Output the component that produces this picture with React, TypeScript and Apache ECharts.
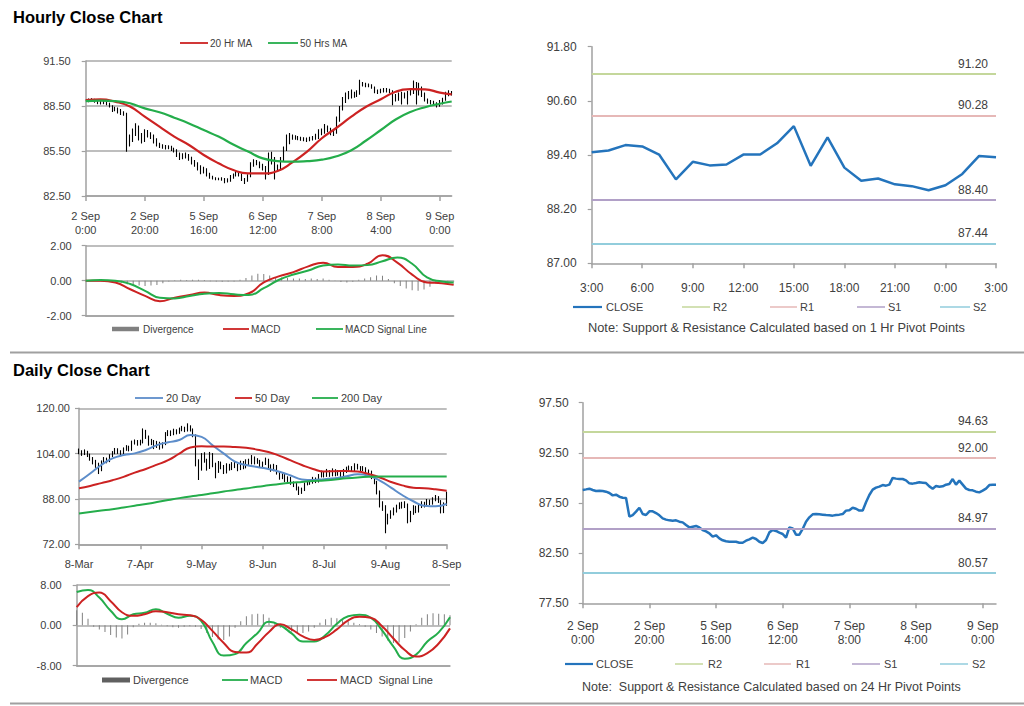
import React, { useEffect, useRef } from "react";
import * as echarts from "echarts";

const FONT = 'Arial, "Liberation Sans", Helvetica, sans-serif';
const TXT = "#404040";
const AX = "#a0a0a0";
const GRIDC = "#a8a8a8";
const RED = "#cc2222";
const GREEN = "#24ad4b";
const BLUE = "#2474bc";
const LBLUE = "#5d8dca";
const GRAY = "#808080";
const C_R2 = "#c4d79b";
const C_R1 = "#e6b8b7";
const C_S1 = "#b1a0c7";
const C_S2 = "#92cddc";

// ---------- Hourly data (2 Sep 0:00 -> 9 Sep 4:00) ----------
const hourlyTicks = ["2 Sep\n0:00", "2 Sep\n20:00", "5 Sep\n16:00", "6 Sep\n12:00", "7 Sep\n8:00", "8 Sep\n4:00", "9 Sep\n0:00"];
const HOURLY_TICK_STEP = 20;
const hourlyFirstOpen = 88.75;
const hourlyClose = [
  88.80, 88.86, 88.93, 88.80, 88.70, 88.73, 88.70, 88.63, 88.50, 88.26,
  88.33, 88.13, 88.03, 88.00, 86.14, 86.30, 86.64, 87.03, 86.40, 86.30,
  86.67, 86.67, 86.50, 86.27, 85.97, 85.84, 85.77, 85.74, 85.77, 85.64,
  85.57, 85.30, 85.07, 85.14, 85.21, 85.07, 84.81, 84.67, 84.48, 84.14,
  84.28, 83.98, 83.78, 83.68, 83.64, 83.64, 83.64, 83.54, 83.54, 83.74,
  83.88, 84.04, 83.91, 83.64, 83.51, 83.81, 84.57, 84.81, 84.71, 84.54,
  84.41, 84.04, 85.07, 84.97, 84.34, 84.34, 84.91, 85.64, 86.07, 86.37,
  86.40, 86.37, 86.34, 86.30, 86.27, 86.24, 86.30, 86.34, 86.40, 86.74,
  86.77, 87.03, 86.93, 86.74, 86.74, 87.57, 88.30, 88.83, 89.03, 89.13,
  89.29, 89.23, 89.33, 90.00, 89.93, 89.89, 89.89, 89.76, 89.46, 89.43,
  89.49, 89.56, 89.53, 89.49, 89.16, 88.93, 89.19, 89.13, 89.16, 89.33,
  89.39, 89.89, 89.33, 89.73, 89.33, 88.93, 88.80, 88.76, 88.63, 88.56,
  88.73, 88.93, 89.29, 89.33, 89.33,
];
const hourlyHigh = [
  88.95, 89.00, 89.02, 88.98, 88.90, 88.85, 88.88, 88.80, 88.72, 88.55,
  88.45, 88.40, 88.30, 88.15, 88.05, 86.60, 87.00, 87.35, 87.20, 86.70,
  86.95, 86.90, 86.75, 86.60, 86.35, 86.05, 85.95, 85.90, 85.88, 85.85,
  85.72, 85.62, 85.40, 85.35, 85.40, 85.30, 85.12, 84.90, 84.75, 84.55,
  84.45, 84.35, 84.05, 83.85, 83.75, 83.72, 83.75, 83.70, 83.68, 83.90,
  84.00, 84.20, 84.10, 84.00, 83.70, 83.95, 84.75, 84.95, 84.90, 84.80,
  84.65, 84.50, 85.40, 85.45, 85.10, 84.60, 85.10, 85.80, 86.60, 86.70,
  86.60, 86.55, 86.50, 86.45, 86.42, 86.40, 86.45, 86.50, 86.65, 86.95,
  87.00, 87.30, 87.20, 87.05, 86.95, 87.80, 88.50, 89.10, 89.40, 89.50,
  89.60, 89.45, 89.55, 90.25, 90.10, 90.05, 90.00, 89.95, 89.80, 89.60,
  89.65, 89.70, 89.70, 89.65, 89.55, 89.30, 89.40, 89.45, 89.40, 89.50,
  89.60, 90.20, 90.10, 90.05, 89.80, 89.40, 89.00, 88.90, 88.85, 88.75,
  88.90, 89.05, 89.45, 89.55, 89.50,
];
const hourlyLow = [
  88.70, 88.75, 88.80, 88.72, 88.62, 88.60, 88.62, 88.55, 88.40, 88.10,
  88.15, 88.00, 87.90, 87.85, 85.45, 85.80, 86.10, 86.50, 86.20, 86.00,
  86.10, 86.40, 86.30, 86.00, 85.80, 85.70, 85.65, 85.60, 85.62, 85.50,
  85.40, 85.10, 84.90, 84.95, 85.00, 84.85, 84.60, 84.45, 84.20, 83.95,
  84.00, 83.80, 83.65, 83.60, 83.55, 83.55, 83.52, 83.35, 83.40, 83.45,
  83.65, 83.80, 83.80, 83.50, 83.30, 83.45, 83.75, 84.45, 84.55, 84.35,
  84.20, 83.60, 83.90, 84.60, 83.60, 84.10, 84.20, 84.80, 85.50, 85.95,
  86.25, 86.25, 86.22, 86.18, 86.15, 86.10, 86.15, 86.20, 86.25, 86.30,
  86.55, 86.65, 86.75, 86.55, 86.50, 86.65, 87.45, 88.20, 88.70, 88.95,
  89.00, 89.05, 89.10, 89.25, 89.80, 89.75, 89.75, 89.65, 89.35, 89.30,
  89.35, 89.40, 89.40, 89.35, 88.55, 88.80, 88.85, 88.60, 89.00, 88.60,
  89.20, 89.30, 88.60, 89.20, 89.10, 88.80, 88.65, 88.60, 88.50, 88.40,
  88.45, 88.60, 88.85, 89.15, 89.20,
];
// moving averages / MACD read at these bar positions
const hourlySampleBars = [0, 5, 10, 15, 20, 25, 30, 35, 40, 45, 50, 55, 60, 65, 70, 75, 80, 85, 90, 95, 100, 105, 110, 115, 120, 124];
const hourlyMA20 = [88.90, 88.94, 88.79, 88.46, 87.79, 87.12, 86.46, 85.90, 85.23, 84.68, 84.23, 84.01, 84.01, 84.17, 84.74, 85.46, 86.35, 87.05, 87.79, 88.45, 88.95, 89.45, 89.62, 89.61, 89.39, 89.28];
const hourlyMA50 = [88.83, 88.86, 88.83, 88.68, 88.34, 88.08, 87.72, 87.34, 86.90, 86.46, 85.94, 85.46, 85.01, 84.83, 84.79, 84.83, 84.92, 85.15, 85.55, 86.20, 86.90, 87.60, 88.10, 88.42, 88.65, 88.80];
const hourlyMACD = [0, 0, -0.10, -0.49, -0.87, -1.17, -0.97, -0.82, -0.68, -0.82, -0.87, -0.72, -0.10, 0.25, 0.49, 0.82, 1.03, 0.78, 0.78, 0.97, 1.46, 1.03, 0.35, -0.10, -0.14, -0.23];
const hourlySignal = [0, 0.04, 0, -0.19, -0.58, -0.97, -1.01, -0.87, -0.74, -0.70, -0.78, -0.82, -0.43, 0.04, 0.35, 0.58, 0.87, 0.93, 0.87, 0.89, 1.11, 1.32, 0.97, 0.19, -0.04, -0.10];
// divergence: one value every 2 bars
const HOURLY_DIV_STEP = 2;
const hourlyDivergence = [
  0, 0, -0.02, -0.03, -0.05, -0.08, -0.12, -0.20, -0.25, -0.28,
  -0.30, -0.28, -0.25, -0.15, -0.05, 0.03, 0.05, 0.04, 0.05, 0.06,
  0.04, -0.03, -0.05, -0.06, -0.05, -0.04, 0.05, 0.15, 0.30, 0.40,
  0.38, 0.30, 0.20, 0.18, 0.15, 0.12, 0.12, 0.10, 0.12, 0.10,
  0.12, 0.05, -0.02, -0.08, -0.10, -0.06, 0.05, 0.12, 0.20, 0.30,
  0.28, 0.10, -0.15, -0.30, -0.45, -0.55, -0.58, -0.50, -0.35, -0.15,
  -0.08, -0.06, -0.05,
];

// ---------- 1 Hr pivot panel ----------
const pivotHourTicks = ["3:00", "6:00", "9:00", "12:00", "15:00", "18:00", "21:00", "0:00", "3:00"];
const PIVOT_TICK_STEP = 3;
const pivotHourClose = [89.46, 89.50, 89.62, 89.59, 89.41, 88.86, 89.25, 89.17, 89.19, 89.41, 89.41, 89.66, 90.04, 89.16, 89.79, 89.12, 88.83, 88.88, 88.75, 88.71, 88.62, 88.73, 88.98, 89.38, 89.35];
const hourPivots = { R2: 91.20, R1: 90.28, S1: 88.40, S2: 87.44 };
const hourPivotAxis = { min: 87.0, max: 91.8, interval: 1.2 };

// ---------- Daily data (8 Mar -> 8 Sep) ----------
const dailyTicks = ["8-Mar", "7-Apr", "9-May", "8-Jun", "8-Jul", "9-Aug", "8-Sep"];
const DAILY_TICK_STEP = 22;
const dailyFirstOpen = 105.0;
const dailyClose = [
  104.5, 104.0, 104.8, 103.6, 102.2, 101.0, 100.5, 98.2, 101.0, 102.0,
  101.5, 103.2, 104.3, 105.2, 104.6, 104.0, 105.5, 106.2, 105.4, 107.8,
  108.2, 107.4, 108.0, 111.8, 110.0, 107.5, 108.3, 106.6, 107.8, 106.2,
  107.4, 110.8, 111.6, 110.9, 112.0, 111.5, 112.4, 113.0, 112.2, 113.6,
  112.5, 110.5, 101.0, 98.5, 103.0, 101.5, 99.0, 103.8, 100.0, 97.8,
  100.5, 99.3, 97.5, 99.8, 98.8, 100.4, 99.6, 98.7, 100.8, 99.2,
  101.4, 100.6, 102.6, 100.9, 101.2, 99.8, 100.4, 101.8, 99.3, 98.4,
  99.6, 97.2, 95.6, 96.3, 94.6, 95.2, 93.6, 93.0, 92.0, 90.5,
  91.2, 93.2, 94.0, 93.8, 95.0, 94.2, 96.1, 97.2, 96.3, 97.8,
  96.5, 98.0, 96.8, 97.5, 96.4, 97.8, 98.7, 99.0, 98.2, 99.8,
  99.0, 98.4, 98.9, 97.0, 97.8, 95.6, 94.0, 90.5, 86.0, 85.3,
  80.0, 82.0, 83.0, 84.0, 85.0, 86.0, 85.2, 86.0, 80.5, 83.0,
  85.0, 83.8, 85.2, 86.5, 85.8, 87.2, 86.4, 87.8, 88.6, 87.2,
  83.5, 86.0, 89.0,
];
const dailyHigh = [
  105.8, 105.2, 105.5, 105.0, 104.0, 102.8, 101.8, 100.8, 101.6, 102.8,
  102.6, 103.8, 104.9, 106.0, 105.9, 105.2, 106.2, 107.0, 106.8, 108.6,
  109.0, 108.8, 108.9, 112.9, 112.4, 110.4, 109.2, 108.8, 108.5, 108.2,
  108.0, 111.6, 112.3, 112.2, 112.8, 112.6, 113.2, 113.8, 113.5, 114.7,
  114.0, 112.9, 110.8, 102.0, 104.2, 104.5, 102.2, 104.6, 104.2, 100.8,
  101.4, 101.2, 100.0, 100.6, 100.4, 101.0, 101.2, 100.4, 101.5, 101.4,
  102.0, 102.2, 103.5, 103.0, 102.4, 101.8, 101.2, 102.6, 102.2, 100.2,
  100.4, 100.0, 97.8, 97.0, 96.8, 96.0, 95.8, 94.2, 93.6, 92.4,
  92.0, 93.8, 94.8, 94.6, 95.8, 95.6, 96.8, 98.0, 97.8, 98.6,
  98.2, 98.8, 98.5, 98.2, 98.0, 98.6, 99.4, 99.8, 99.6, 100.6,
  100.4, 99.6, 99.6, 99.2, 98.4, 98.0, 96.0, 94.4, 91.0, 87.2,
  85.8, 82.8, 84.0, 85.0, 86.0, 86.8, 87.0, 87.2, 86.4, 83.8,
  85.8, 85.6, 86.0, 87.2, 87.0, 88.0, 87.8, 88.6, 89.4, 89.0,
  87.6, 86.8, 90.6,
];
const dailyLow = [
  103.8, 103.2, 103.5, 102.8, 101.5, 100.2, 99.0, 96.8, 97.8, 100.4,
  100.6, 101.0, 102.8, 103.8, 103.9, 103.4, 103.6, 105.0, 104.8, 105.0,
  107.2, 106.8, 106.9, 107.6, 109.2, 106.8, 107.0, 105.6, 106.0, 105.4,
  105.8, 107.0, 110.2, 110.2, 110.5, 110.8, 111.0, 111.9, 111.6, 111.8,
  111.8, 109.8, 99.5, 94.7, 98.0, 100.8, 98.0, 98.6, 99.2, 95.3,
  97.2, 98.5, 96.8, 97.0, 98.0, 98.2, 98.9, 97.8, 98.2, 98.5,
  98.8, 100.0, 100.2, 100.2, 100.4, 99.2, 99.2, 100.0, 98.8, 97.6,
  97.8, 96.6, 94.8, 95.0, 94.0, 94.0, 93.0, 92.2, 91.0, 89.4,
  89.8, 90.8, 92.8, 93.0, 93.4, 93.6, 93.8, 95.6, 95.6, 95.8,
  95.8, 96.0, 96.0, 96.2, 95.8, 96.0, 97.2, 98.0, 97.6, 97.8,
  98.4, 97.8, 97.8, 96.4, 96.4, 95.0, 93.2, 89.6, 85.0, 83.8,
  75.9, 79.0, 81.0, 82.2, 83.2, 84.4, 84.6, 84.8, 79.4, 79.8,
  82.4, 83.0, 83.2, 84.8, 85.0, 85.4, 85.8, 86.0, 87.2, 86.6,
  82.9, 83.0, 85.6,
];
// moving averages / MACD read every 4 bars
const DAILY_SAMPLE_STEP = 4;
const dailyMA20 = [94.1, 97.0, 100.0, 102.3, 103.5, 104.1, 105.3, 107.0, 108.0, 108.8, 110.6, 109.9, 106.9, 104.0, 101.2, 100.0, 99.3, 98.6, 97.6, 96.3, 94.9, 94.7, 95.0, 95.3, 96.0, 96.7, 96.2, 94.5, 92.0, 89.4, 87.2, 85.6, 85.4, 86.3];
const dailyMA50 = [91.8, 92.6, 93.6, 94.6, 95.8, 97.3, 98.6, 100.1, 101.7, 104.0, 106.2, 106.6, 106.5, 106.5, 106.3, 106.1, 105.4, 104.6, 103.2, 101.6, 100.0, 98.6, 97.7, 97.8, 97.9, 97.7, 96.8, 95.6, 94.0, 92.8, 92.0, 91.8, 91.4, 90.9];
const dailyMA200 = [82.9, 83.4, 83.9, 84.4, 85.0, 85.6, 86.2, 86.9, 87.6, 88.3, 88.9, 89.4, 90.0, 90.6, 91.2, 91.7, 92.3, 92.8, 93.3, 93.7, 94.0, 94.3, 94.5, 94.9, 95.3, 95.6, 95.8, 95.9, 95.9, 95.9, 95.9, 95.9, 95.9, 95.9];
const dailyMACD = [6.6, 7.0, 5.5, 2.9, 1.2, 2.2, 2.5, 3.2, 2.3, 1.5, 1.9, 0.9, -3.3, -6.0, -5.7, -3.5, -1.5, 0.7, 0.0, -1.6, -3.2, -3.2, -1.9, 0.3, 1.8, 2.1, 1.5, -1.0, -4.2, -6.6, -5.8, -3.2, -1.4, 1.6];
const dailySignal = [3.6, 5.8, 6.5, 4.8, 2.6, 1.9, 2.2, 2.8, 2.6, 2.2, 2.0, 1.1, -1.1, -3.5, -5.3, -5.4, -3.6, -1.3, 0.2, -0.8, -2.2, -2.9, -2.3, -0.8, 1.0, 1.7, 1.5, -0.2, -2.6, -4.9, -6.2, -5.5, -3.6, -0.6];
const DAILY_DIV_STEP = 2;
const dailyDivergence = [
  3.0, 2.5, 1.3, -0.3, -0.8, -1.3, -1.9, -2.4, -2.6, -1.8,
  -0.4, 0.3, 0.5, 0.5, 0.4, 0.1, -0.2, -0.4, -0.5, -0.3,
  -0.2, -0.3, -0.7, -1.5, -2.3, -2.8, -2.9, -2.2, -0.5, 0.8,
  1.8, 2.2, 2.3, 2.2, 1.5, 0.2, -0.5, -0.9, -1.2, -1.4,
  -1.5, -1.2, -0.5, 0.5, 1.2, 1.5, 1.4, 1.0, 0.8, 0.5,
  0.2, -0.3, -0.8, -1.5, -2.2, -3.0, -3.5, -3.4, -2.5, -1.2,
  0.2, 1.5, 2.2, 2.4, 2.3, 2.2, 2.0,
];
const dayPivots = { R2: 94.63, R1: 92.00, S1: 84.97, S2: 80.57 };

// ---------- helpers ----------
const fmt2 = (v: number) => v.toFixed(2);
const toCandles = (first: number, close: number[], low: number[], high: number[]) =>
  close.map((c, i) => [i === 0 ? first : close[i - 1], c, low[i], high[i]]);
const pairs = (xs: number[], ys: number[]) => ys.map((v, k) => [xs[k], v]);
const stepPairs = (step: number, ys: number[]) => ys.map((v, k) => [k * step, v]);

const axisLineStyle = { show: true, lineStyle: { color: AX, width: 1.5 } };
const labelBase = (size: number) => ({ color: TXT, fontSize: size, fontFamily: FONT });

function catAxis(gridIndex: number, n: number, ticks: string[], step: number, size: number, margin: number) {
  return {
    type: "category",
    gridIndex,
    boundaryGap: false,
    data: Array.from({ length: n }, (_, i) => String(i)),
    axisLine: axisLineStyle,
    axisTick: { show: true, interval: step - 1, length: 5, lineStyle: { color: AX, width: 1.5 } },
    axisLabel: {
      ...labelBase(size),
      interval: step - 1,
      margin,
      lineHeight: 14,
      formatter: (_v: string, idx: number) => (idx % step === 0 ? ticks[idx / step] ?? "" : ""),
    },
    splitLine: { show: false },
  };
}
function hiddenValueX(gridIndex: number, max: number, showLine: boolean) {
  return {
    type: "value",
    gridIndex,
    min: 0,
    max,
    show: showLine,
    axisLine: { ...axisLineStyle, onZero: false },
    axisTick: { show: false },
    axisLabel: { show: false },
    splitLine: { show: false },
  };
}
function valueY(gridIndex: number, min: number, max: number, interval: number, size: number, margin: number, split: boolean) {
  return {
    type: "value",
    gridIndex,
    min,
    max,
    interval,
    axisLine: axisLineStyle,
    axisTick: { show: true, length: 4, lineStyle: { color: AX, width: 1.2 } },
    axisLabel: { ...labelBase(size), margin, formatter: fmt2 },
    splitLine: { show: split, lineStyle: { color: GRIDC, width: 1.5 } },
  };
}
const lineSeries = (name: string, x: number, y: number, data: any[], color: string, width: number, smooth = true) => ({
  name, type: "line", xAxisIndex: x, yAxisIndex: y, data, showSymbol: false, symbol: "none",
  smooth, lineStyle: { color, width }, itemStyle: { color }, silent: true, z: 3,
});
const candleSeries = (name: string, x: number, y: number, data: any[]) => ({
  name, type: "candlestick", xAxisIndex: x, yAxisIndex: y, data, barWidth: 1, silent: true, z: 2,
  itemStyle: { color: "#000", color0: "#000", borderColor: "#000", borderColor0: "#000", borderWidth: 1.1 },
});
const barSeries = (name: string, x: number, y: number, data: any[]) => ({
  name, type: "bar", xAxisIndex: x, yAxisIndex: y, data, barWidth: 1, silent: true,
  itemStyle: { color: GRAY }, z: 2,
});
const pivotMarks = (p: { R2: number; R1: number; S1: number; S2: number }) => ({
  silent: true,
  symbol: ["none", "none"],
  animation: false,
  label: { show: true, position: "insideEndTop", formatter: (q: any) => fmt2(q.value), color: TXT, fontSize: 12, fontFamily: FONT, distance: [8, 4] },
  emphasis: { disabled: true },
  data: [
    { yAxis: p.R2, lineStyle: { color: C_R2, width: 1.8, type: "solid" } },
    { yAxis: p.R1, lineStyle: { color: C_R1, width: 1.8, type: "solid" } },
    { yAxis: p.S1, lineStyle: { color: C_S1, width: 1.8, type: "solid" } },
    { yAxis: p.S2, lineStyle: { color: C_S2, width: 1.8, type: "solid" } },
  ],
});

// graphic helpers
const gLine = (x1: number, x2: number, y: number, color: string, w = 2) => ({
  type: "line", silent: true, shape: { x1, y1: y, x2, y2: y }, style: { stroke: color, lineWidth: w },
});
const gRect = (x1: number, x2: number, y: number, h: number, color: string) => ({
  type: "rect", silent: true, shape: { x: x1, y: y - h / 2, width: x2 - x1, height: h }, style: { fill: color },
});
const gText = (x: number, y: number, text: string, size: number, weight = "normal", color = TXT) => ({
  type: "text", silent: true, x, y,
  style: { text, fill: color, fontSize: size, fontFamily: FONT, fontWeight: weight, align: "left", verticalAlign: "middle", textAlign: "left", textVerticalAlign: "middle" },
});

function buildOption() {
  const nH = hourlyClose.length;
  const nD = dailyClose.length;
  const hourlyCandles = toCandles(hourlyFirstOpen, hourlyClose, hourlyLow, hourlyHigh);
  const dailyCandles = toCandles(dailyFirstOpen, dailyClose, dailyLow, dailyHigh);

  const graphic: any[] = [
    gText(13, 16.5, "Hourly Close Chart", 16.5, "bold", "#000"),
    gText(13, 370, "Daily Close Chart", 16.5, "bold", "#000"),
    gLine(10, 1024, 352.5, "#a0a0a0", 2),
    gLine(10, 1024, 703.5, "#a0a0a0", 2),
    // panel 1 legend
    gLine(180, 208, 43, RED, 1.8), gText(210, 43, "20 Hr MA", 10),
    gLine(268, 298, 43, GREEN, 1.8), gText(300, 43, "50 Hrs MA", 10),
    // panel 2 legend
    gRect(112, 139, 329, 4.5, GRAY), gText(143, 329, "Divergence", 10),
    gLine(223, 249, 329, RED, 1.8), gText(251, 329, "MACD", 10),
    gLine(316, 343, 329, GREEN, 1.8), gText(345, 329, "MACD Signal Line", 10),
    // panel 3 legend + note
    gLine(573, 602, 307, BLUE, 2.2), gText(606, 307, "CLOSE", 11),
    gLine(682, 710, 307, C_R2, 1.5), gText(713, 307, "R2", 11),
    gLine(770, 797, 307, C_R1, 1.5), gText(800, 307, "R1", 11),
    gLine(857, 885, 307, C_S1, 1.5), gText(888, 307, "S1", 11),
    gLine(940, 970, 307, C_S2, 1.5), gText(973, 307, "S2", 11),
    gText(588, 327, "Note: Support & Resistance Calculated based on 1 Hr Pivot Points", 12.8),
    // panel 4 legend
    gLine(135, 163, 398, LBLUE, 1.8), gText(166, 398, "20 Day", 11),
    gLine(235, 252, 398, RED, 1.8), gText(255, 398, "50 Day", 11),
    gLine(312, 338, 398, GREEN, 1.8), gText(341, 398, "200 Day", 11),
    // panel 5 legend
    gRect(102, 130, 680, 5, "#606060"), gText(133, 680, "Divergence", 11),
    gLine(222, 248, 680, GREEN, 1.8), gText(250, 680, "MACD", 11),
    gLine(307, 337, 680, RED, 1.8), gText(340, 680, "MACD  Signal Line", 11),
    // panel 6 legend + note
    gLine(565, 593, 664, BLUE, 2.2), gText(596, 664, "CLOSE", 11),
    gLine(675, 703, 664, C_R2, 1.5), gText(708, 664, "R2", 11),
    gLine(764, 791, 664, C_R1, 1.5), gText(796, 664, "R1", 11),
    gLine(852, 880, 664, C_S1, 1.5), gText(884, 664, "S1", 11),
    gLine(940, 968, 664, C_S2, 1.5), gText(972, 664, "S2", 11),
    gText(582, 687, "Note:  Support & Resistance Calculated based on 24 Hr Pivot Points", 12.5),
  ];

  return {
    animation: false,
    backgroundColor: "#ffffff",
    textStyle: { fontFamily: FONT },
    grid: [
      { left: 85.7, top: 61, width: 366, height: 135 },
      { left: 85.7, top: 245.7, width: 368, height: 70 },
      { left: 591.7, top: 46.7, width: 404.3, height: 216.6 },
      { left: 79, top: 408.3, width: 367.7, height: 136 },
      { left: 76.7, top: 585, width: 373.3, height: 80.7 },
      { left: 582.7, top: 402.7, width: 413.3, height: 200.6 },
    ],
    xAxis: [
      catAxis(0, nH, hourlyTicks, HOURLY_TICK_STEP, 11, 13),
      hiddenValueX(0, nH - 1, false),
      hiddenValueX(1, nH - 1, true),
      catAxis(2, pivotHourClose.length, pivotHourTicks, PIVOT_TICK_STEP, 12, 18),
      catAxis(3, nD, dailyTicks, DAILY_TICK_STEP, 11, 13),
      hiddenValueX(3, nD - 1, false),
      hiddenValueX(4, nD - 1, true),
      catAxis(5, nH, hourlyTicks, HOURLY_TICK_STEP, 12, 16),
    ],
    yAxis: [
      valueY(0, 82.5, 91.5, 3, 11, 15, true),
      valueY(1, -2, 2, 2, 11, 14, true),
      valueY(2, hourPivotAxis.min, hourPivotAxis.max, hourPivotAxis.interval, 12, 15, false),
      valueY(3, 72, 120, 16, 11, 9, true),
      valueY(4, -8, 8, 8, 11, 15, true),
      valueY(5, 77.5, 97.5, 5, 12, 14, false),
    ],
    series: [
      candleSeries("Hourly", 0, 0, hourlyCandles),
      lineSeries("20 Hr MA", 1, 0, pairs(hourlySampleBars, hourlyMA20), RED, 2.2),
      lineSeries("50 Hrs MA", 1, 0, pairs(hourlySampleBars, hourlyMA50), GREEN, 2.2),

      barSeries("Divergence", 2, 1, stepPairs(HOURLY_DIV_STEP, hourlyDivergence)),
      lineSeries("MACD", 2, 1, pairs(hourlySampleBars, hourlyMACD), RED, 2),
      lineSeries("MACD Signal Line", 2, 1, pairs(hourlySampleBars, hourlySignal), GREEN, 2),

      { ...lineSeries("CLOSE", 3, 2, pivotHourClose, BLUE, 2.5, false), markLine: pivotMarks(hourPivots) },

      candleSeries("Daily", 4, 3, dailyCandles),
      lineSeries("20 Day", 5, 3, stepPairs(DAILY_SAMPLE_STEP, dailyMA20), LBLUE, 2),
      lineSeries("50 Day", 5, 3, stepPairs(DAILY_SAMPLE_STEP, dailyMA50), RED, 2),
      lineSeries("200 Day", 5, 3, stepPairs(DAILY_SAMPLE_STEP, dailyMA200), GREEN, 2),

      barSeries("Divergence D", 6, 4, stepPairs(DAILY_DIV_STEP, dailyDivergence)),
      lineSeries("MACD D", 6, 4, stepPairs(DAILY_SAMPLE_STEP, dailyMACD), GREEN, 2),
      lineSeries("MACD Signal Line D", 6, 4, stepPairs(DAILY_SAMPLE_STEP, dailySignal), RED, 2),

      { ...lineSeries("CLOSE 24", 7, 5, hourlyClose, BLUE, 2.5, false), markLine: pivotMarks(dayPivots) },
    ],
    graphic,
  };
}

export default function App() {
  const ref = useRef<HTMLDivElement>(null);
  useEffect(() => {
    if (!ref.current) return;
    const chart = echarts.init(ref.current, null, { renderer: "svg", width: 1024, height: 706 });
    chart.setOption(buildOption() as any);
    return () => chart.dispose();
  }, []);
  return (
    <div
      ref={ref}
      style={{ position: "fixed", left: 0, top: 0, width: 1024, height: 706, background: "#fff" }}
    />
  );
}
